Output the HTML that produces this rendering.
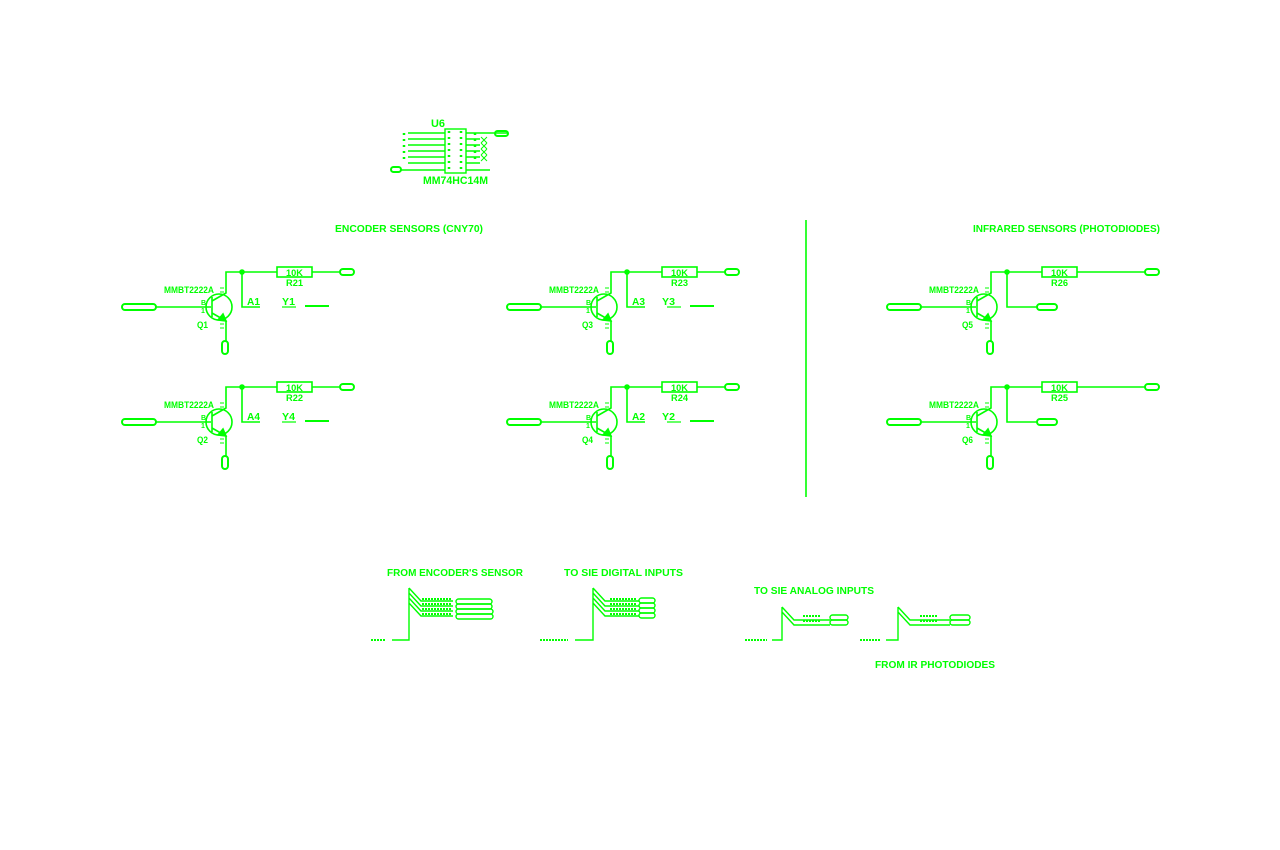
<!DOCTYPE html>
<html><head><meta charset="utf-8"><style>
html,body{margin:0;padding:0;background:#fff;width:1280px;height:850px;overflow:hidden}
svg{display:block}
text{font-family:"Liberation Sans","DejaVu Sans",sans-serif;fill:#00ff00;font-weight:bold}
</style></head><body>
<svg width="1280" height="850" viewBox="0 0 1280 850" xmlns="http://www.w3.org/2000/svg">
<defs>
<g id="tr" stroke="#00ff00" stroke-width="1.6" fill="none">
  <circle cx="219" cy="307" r="13"/>
  <line x1="156" y1="307" x2="211" y2="307"/>
  <line x1="212" y1="297" x2="212" y2="317"/>
  <polyline points="212,301 226,293 226,272 277,272"/>
  <polyline points="212,313 226,321 226,341"/>
  <polygon points="226,321 218,320 223,314" fill="#00ff00"/>
  <rect x="277" y="267" width="35" height="10"/>
  <rect x="122" y="304" width="34" height="6" rx="3" stroke-width="2"/>
  <rect x="222" y="341" width="6" height="13" rx="3" stroke-width="2"/>
  <circle cx="242" cy="272" r="2" fill="#00ff00"/>
  <path d="M220 288h4M220 292h4M220 324h4M220 328h4" stroke-width="1"/>
</g>
<g id="enc" stroke="#00ff00" stroke-width="1.6" fill="none">
  <polyline points="242,272 242,307 260,307"/>
  <line x1="312" y1="272" x2="340" y2="272"/>
  <rect x="340" y="269" width="14" height="6" rx="3" stroke-width="2"/>
  <line x1="282" y1="307" x2="296" y2="307" stroke-width="1.2"/>
  <line x1="305" y1="306" x2="329" y2="306" stroke-width="2"/>
</g>
<g id="ir" stroke="#00ff00" stroke-width="1.6" fill="none">
  <polyline points="242,272 242,307 272,307"/>
  <rect x="272" y="304" width="20" height="6" rx="3" stroke-width="2"/>
  <line x1="312" y1="272" x2="380" y2="272"/>
  <rect x="380" y="269" width="14" height="6" rx="3" stroke-width="2"/>
</g>
</defs>

<!-- U6 -->
<g stroke="#00ff00" stroke-width="1.4" fill="none">
  <rect x="445" y="129" width="21" height="44"/>
  <path d="M408 133h37M408 139h37M408 145h37M408 151h37M408 157h37M408 163h37M400 170h45"/>
  <path d="M466 133h41M466 139h14M466 145h14M466 151h14M466 157h14M466 163h14M466 170h24"/>
  <rect x="495" y="131" width="13" height="5" rx="2.5" stroke-width="2"/>
  <rect x="391" y="167" width="10" height="5" rx="2.5" stroke-width="2"/>
  <path d="M481 137l6 6M487 137l-6 6M481 143l6 6M487 143l-6 6M481 149l6 6M487 149l-6 6M481 155l6 6M487 155l-6 6" stroke-width="1"/>
  <path d="M449 131v40M461 131v40M404 133v30M475 133v30" stroke-width="2.5" stroke-dasharray="2 4"/>
</g>
<text x="431" y="127" font-size="11" textLength="14" lengthAdjust="spacingAndGlyphs">U6</text>
<text x="423" y="184" font-size="11" textLength="65" lengthAdjust="spacingAndGlyphs">MM74HC14M</text>

<text x="335" y="232" font-size="10" textLength="148" lengthAdjust="spacingAndGlyphs">ENCODER SENSORS (CNY70)</text>
<text x="973" y="232" font-size="10" textLength="187" lengthAdjust="spacingAndGlyphs">INFRARED SENSORS (PHOTODIODES)</text>
<line x1="806" y1="220" x2="806" y2="497" stroke="#00ff00" stroke-width="1.6"/>

<!-- Q1 -->
<use href="#tr"/><use href="#enc"/>
<text x="164" y="293" font-size="9" textLength="50" lengthAdjust="spacingAndGlyphs">MMBT2222A</text><text x="197" y="328" font-size="9" textLength="11" lengthAdjust="spacingAndGlyphs">Q1</text>
<text x="201" y="305" font-size="7">B</text><text x="201" y="313" font-size="7">1</text>
<text x="286" y="276" font-size="9" textLength="17" lengthAdjust="spacingAndGlyphs">10K</text><text x="286" y="286" font-size="9" textLength="17" lengthAdjust="spacingAndGlyphs">R21</text>
<text x="247" y="305" font-size="10" textLength="13" lengthAdjust="spacingAndGlyphs">A1</text><text x="282" y="305" font-size="10" textLength="13" lengthAdjust="spacingAndGlyphs">Y1</text>
<!-- Q2 -->
<g transform="translate(0,115)"><use href="#tr"/><use href="#enc"/>
<text x="164" y="293" font-size="9" textLength="50" lengthAdjust="spacingAndGlyphs">MMBT2222A</text><text x="197" y="328" font-size="9" textLength="11" lengthAdjust="spacingAndGlyphs">Q2</text>
<text x="201" y="305" font-size="7">B</text><text x="201" y="313" font-size="7">1</text>
<text x="286" y="276" font-size="9" textLength="17" lengthAdjust="spacingAndGlyphs">10K</text><text x="286" y="286" font-size="9" textLength="17" lengthAdjust="spacingAndGlyphs">R22</text>
<text x="247" y="305" font-size="10" textLength="13" lengthAdjust="spacingAndGlyphs">A4</text><text x="282" y="305" font-size="10" textLength="13" lengthAdjust="spacingAndGlyphs">Y4</text></g>
<!-- Q3 -->
<g transform="translate(385,0)"><use href="#tr"/><use href="#enc"/>
<text x="164" y="293" font-size="9" textLength="50" lengthAdjust="spacingAndGlyphs">MMBT2222A</text><text x="197" y="328" font-size="9" textLength="11" lengthAdjust="spacingAndGlyphs">Q3</text>
<text x="201" y="305" font-size="7">B</text><text x="201" y="313" font-size="7">1</text>
<text x="286" y="276" font-size="9" textLength="17" lengthAdjust="spacingAndGlyphs">10K</text><text x="286" y="286" font-size="9" textLength="17" lengthAdjust="spacingAndGlyphs">R23</text>
<text x="247" y="305" font-size="10" textLength="13" lengthAdjust="spacingAndGlyphs">A3</text><text x="277" y="305" font-size="10" textLength="13" lengthAdjust="spacingAndGlyphs">Y3</text></g>
<!-- Q4 -->
<g transform="translate(385,115)"><use href="#tr"/><use href="#enc"/>
<text x="164" y="293" font-size="9" textLength="50" lengthAdjust="spacingAndGlyphs">MMBT2222A</text><text x="197" y="328" font-size="9" textLength="11" lengthAdjust="spacingAndGlyphs">Q4</text>
<text x="201" y="305" font-size="7">B</text><text x="201" y="313" font-size="7">1</text>
<text x="286" y="276" font-size="9" textLength="17" lengthAdjust="spacingAndGlyphs">10K</text><text x="286" y="286" font-size="9" textLength="17" lengthAdjust="spacingAndGlyphs">R24</text>
<text x="247" y="305" font-size="10" textLength="13" lengthAdjust="spacingAndGlyphs">A2</text><text x="277" y="305" font-size="10" textLength="13" lengthAdjust="spacingAndGlyphs">Y2</text></g>
<!-- Q5 -->
<g transform="translate(765,0)"><use href="#tr"/><use href="#ir"/>
<text x="164" y="293" font-size="9" textLength="50" lengthAdjust="spacingAndGlyphs">MMBT2222A</text><text x="197" y="328" font-size="9" textLength="11" lengthAdjust="spacingAndGlyphs">Q5</text>
<text x="201" y="305" font-size="7">B</text><text x="201" y="313" font-size="7">1</text>
<text x="286" y="276" font-size="9" textLength="17" lengthAdjust="spacingAndGlyphs">10K</text><text x="286" y="286" font-size="9" textLength="17" lengthAdjust="spacingAndGlyphs">R26</text></g>
<!-- Q6 -->
<g transform="translate(765,115)"><use href="#tr"/><use href="#ir"/>
<text x="164" y="293" font-size="9" textLength="50" lengthAdjust="spacingAndGlyphs">MMBT2222A</text><text x="197" y="328" font-size="9" textLength="11" lengthAdjust="spacingAndGlyphs">Q6</text>
<text x="201" y="305" font-size="7">B</text><text x="201" y="313" font-size="7">1</text>
<text x="286" y="276" font-size="9" textLength="17" lengthAdjust="spacingAndGlyphs">10K</text><text x="286" y="286" font-size="9" textLength="17" lengthAdjust="spacingAndGlyphs">R25</text></g>

<!-- bottom buses -->
<text x="387" y="576" font-size="10" textLength="136" lengthAdjust="spacingAndGlyphs">FROM ENCODER'S SENSOR</text>
<text x="564" y="576" font-size="10" textLength="119" lengthAdjust="spacingAndGlyphs">TO SIE DIGITAL INPUTS</text>
<text x="754" y="594" font-size="10" textLength="120" lengthAdjust="spacingAndGlyphs">TO SIE ANALOG INPUTS</text>
<text x="875" y="668" font-size="10" textLength="120" lengthAdjust="spacingAndGlyphs">FROM IR PHOTODIODES</text>
<g stroke="#00ff00" stroke-width="1.4" fill="none">
  <path d="M392 640h17v-52M409 588l12 13h32M409 593l12 13h32M409 598l12 13h32M409 603l12 13h32"/>
  <rect x="456" y="599" width="36" height="5" rx="2.5"/><rect x="456" y="604" width="36" height="5" rx="2.5"/>
  <rect x="456" y="609" width="37" height="5" rx="2.5"/><rect x="456" y="614" width="37" height="5" rx="2.5"/>
  <path d="M422 599h30M422 604h30M422 609h30M422 614h30" stroke-width="2" stroke-dasharray="2 1"/>
  <path d="M575 640h18v-52M593 588l12 13h34M593 593l12 13h34M593 598l12 13h34M593 603l12 13h34"/>
  <rect x="639" y="598" width="16" height="5" rx="2.5"/><rect x="639" y="603" width="16" height="5" rx="2.5"/>
  <rect x="639" y="608" width="16" height="5" rx="2.5"/><rect x="639" y="613" width="16" height="5" rx="2.5"/>
  <path d="M610 599h26M610 604h26M610 609h26M610 614h26" stroke-width="2" stroke-dasharray="2 1"/>
  <path d="M772 640h10v-33M782 607l12 13h36M782 612l12 13h36"/>
  <rect x="830" y="615" width="18" height="5" rx="2.5"/><rect x="830" y="620" width="18" height="5" rx="2.5"/>
  <path d="M803 616h18M803 621h18" stroke-width="2" stroke-dasharray="2 1"/>
  <path d="M886 640h12v-33M898 607l12 13h40M898 612l12 13h40"/>
  <rect x="950" y="615" width="20" height="5" rx="2.5"/><rect x="950" y="620" width="20" height="5" rx="2.5"/>
  <path d="M920 616h18M920 621h18" stroke-width="2" stroke-dasharray="2 1"/>
  <path d="M371 640h15M540 640h28M745 640h22M860 640h20" stroke-width="2" stroke-dasharray="2 1"/>
</g>
</svg>
</body></html>
